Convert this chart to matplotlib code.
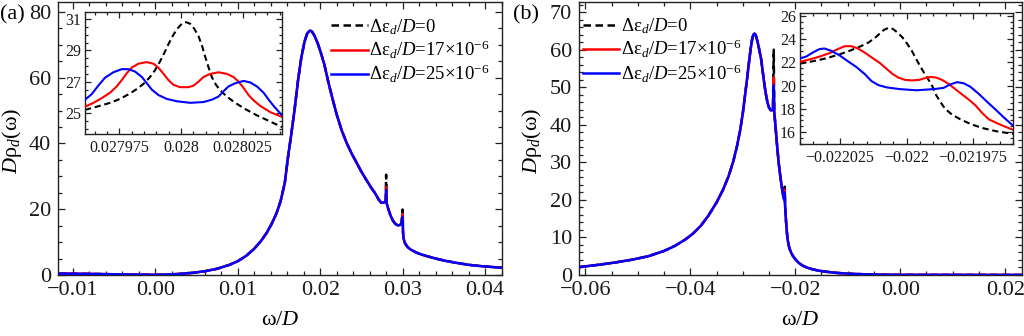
import numpy as np
import matplotlib
matplotlib.use("Agg")
import matplotlib.pyplot as plt
from matplotlib.ticker import MultipleLocator, FixedLocator, FixedFormatter

plt.rcParams["font.family"] = ["Liberation Serif", "DejaVu Serif"]
plt.rcParams["mathtext.fontset"] = "custom"
plt.rcParams["mathtext.rm"] = "Liberation Serif"
plt.rcParams["mathtext.it"] = "Liberation Serif:italic"
plt.rcParams["mathtext.bf"] = "Liberation Serif:bold"
plt.rcParams["axes.unicode_minus"] = True

# ---------------- panel (a): spectral density near the upper resonance ----------------
a_omega = [-0.0118, -0.0100, -0.0075, -0.0050, -0.0025, 0.0000, 0.0015, 0.0030,
           0.0045, 0.0060, 0.0075, 0.0090, 0.0100, 0.0110, 0.0120, 0.0128,
           0.0135, 0.0141, 0.0147, 0.0152, 0.0157, 0.0161, 0.0165, 0.0169,
           0.0173, 0.0177, 0.0181, 0.0184, 0.0186, 0.0188, 0.0190, 0.0193,
           0.0197, 0.0201, 0.0205, 0.0210, 0.0215, 0.0220, 0.0226, 0.0232,
           0.0238, 0.0244, 0.0250, 0.0256, 0.0262, 0.0267, 0.0271, 0.0274,
           0.0277, 0.02795, 0.02805, 0.0282, 0.0285, 0.0288, 0.0291, 0.0294,
           0.0297, 0.02985, 0.03005, 0.0301, 0.0303, 0.0306, 0.0310, 0.0316,
           0.0322, 0.0330, 0.0340, 0.0352, 0.0365, 0.0380, 0.0395, 0.0410,
           0.0421]
a_rho = [0.45, 0.40, 0.32, 0.22, 0.13, 0.08, 0.15, 0.35,
         0.65, 1.15, 1.9, 3.1, 4.2, 5.8, 8.0, 10.3,
         12.8, 15.5, 18.8, 22.5, 28.0, 36.0, 43.0, 50.5,
         59.0, 66.0, 71.0, 73.3, 74.0, 74.3, 74.0, 72.8,
         70.4, 67.4, 64.0, 58.5, 53.5, 48.8, 44.0, 40.2,
         37.0, 34.2, 31.4, 28.9, 26.5, 24.7, 22.9, 22.0,
         22.0, 22.5, 22.0, 20.6, 18.3, 16.6, 15.6, 15.1,
         15.2, 15.7, 13.0, 11.2, 9.6, 8.5, 7.7, 6.9,
         6.3, 5.7, 5.0, 4.3, 3.7, 3.1, 2.7, 2.4,
         2.2]
a_spike_omega = [0.0280, 0.0300]
a_spike_top_0 = [30.5, 19.9]
a_spike_top_17 = [26.7, 18.5]
a_spike_top_25 = [25.9, 17.7]

# inset (a): omega offsets from 0.028, in units of 1e-6
ai_center = 0.028
ai_d_0 = [-39.0, -34.3, -28.8, -24.8, -20.7, -17.3, -14.6, -12.6, -10.5, -8.5,
          -6.9, -5.1, -3.1, -1.4, 0.3, 2.1, 3.7, 5.3, 7.1, 8.5, 9.8, 11.2, 12.5,
          14.2, 15.9, 18.6, 22.0, 26.1, 30.8, 36.3, 41.0]
ai_rho_0 = [25.2, 25.4, 25.65, 25.9, 26.25, 26.6, 26.95, 27.3, 27.75, 28.3,
            28.8, 29.4, 30.0, 30.4, 30.7, 30.8, 30.7, 30.4, 29.9, 29.3, 28.6, 27.9, 27.3,
            26.8, 26.45, 26.05, 25.65, 25.25, 24.85, 24.45, 24.1]
ai_d_17 = [-39.0, -35.6, -32.2, -28.8, -26.1, -24.1, -22.0, -20.0, -17.3, -13.9,
           -11.2, -9.2, -7.1, -5.1, -3.1, -0.4, 3.0, 5.1, 7.1, 9.1, 11.9, 15.2,
           18.6, 21.3, 23.4, 25.4, 27.4, 29.5, 32.2, 36.3, 41.0]
ai_rho_17 = [25.4, 25.65, 25.95, 26.3, 26.7, 27.1, 27.55, 27.9, 28.15, 28.25,
             28.15, 27.9, 27.5, 27.1, 26.8, 26.65, 26.65, 26.75, 27.0, 27.3, 27.5, 27.6,
             27.5, 27.3, 27.0, 26.6, 26.15, 25.8, 25.45, 25.05, 24.75]
ai_d_25 = [-39.0, -36.3, -33.6, -30.9, -27.5, -24.1, -21.4, -18.7, -15.9, -13.9,
           -11.9, -9.2, -5.8, -1.7, 3.7, 9.1, 12.5, 15.2, 17.3, 19.3, 22.0, 25.4,
           28.1, 30.8, 33.5, 35.6, 37.6, 39.6, 41.0]
ai_rho_25 = [25.85, 26.2, 26.75, 27.25, 27.6, 27.8, 27.8, 27.65, 27.3, 26.9,
             26.5, 26.15, 25.9, 25.75, 25.65, 25.7, 25.85, 26.05, 26.4, 26.7, 26.9, 27.05,
             26.95, 26.7, 26.3, 25.85, 25.45, 25.1, 24.85]

# ---------------- panel (b): spectral density near the lower resonance ----------------
b_omega = [-0.0612, -0.0600, -0.0570, -0.0540, -0.0510, -0.0480, -0.0450, -0.0430,
           -0.0410, -0.0395, -0.0380, -0.0365, -0.0350, -0.0338, -0.0327, -0.0318,
           -0.0311, -0.0305, -0.0300, -0.0296, -0.0292, -0.0288, -0.0285, -0.0282,
           -0.0280, -0.0278, -0.0276, -0.0274, -0.0271, -0.0268, -0.0265, -0.0262,
           -0.0259, -0.0256, -0.0253, -0.0250, -0.0247, -0.0244, -0.02425, -0.0240,
           -0.0238, -0.0236, -0.0234, -0.0232, -0.0230, -0.0228, -0.0226, -0.0224,
           -0.0223, -0.02215, -0.02205, -0.02195, -0.0219, -0.0218, -0.0217, -0.0216,
           -0.0215, -0.0213, -0.0211, -0.0208, -0.0205, -0.0202, -0.0198, -0.0193,
           -0.0186, -0.0178, -0.0168, -0.0155, -0.0140, -0.0120, -0.0100, -0.0075,
           -0.0050, -0.0025, 0.0000, 0.0100, 0.0232]
b_rho = [2.1, 2.3, 2.8, 3.4, 4.1, 5.0, 6.4, 7.7,
         9.4, 11.0, 13.1, 15.9, 19.3, 22.6, 26.3, 30.3,
         34.3, 38.5, 43.0, 47.5, 52.0, 56.8, 60.2, 62.9,
         63.9, 64.3, 64.1, 63.3, 61.6, 59.6, 57.5, 54.2,
         51.0, 48.2, 46.0, 44.6, 43.9, 43.9, 44.2, 43.5,
         40.2, 36.8, 33.5, 30.5, 28.0, 25.8, 23.8, 22.0,
         21.0, 20.3, 20.0, 19.0, 17.5, 15.3, 13.2, 11.5,
         10.0, 8.2, 7.1, 6.0, 5.2, 4.6, 3.9, 3.2,
         2.5, 2.0, 1.55, 1.15, 0.85, 0.55, 0.36, 0.22,
         0.13, 0.08, 0.05, 0.03, 0.02]
b_spike_omega = [-0.0241, -0.0220]
b_spike_top_0 = [60.0, 23.5]
b_spike_top_17 = [52.6, 22.7]
b_spike_top_25 = [50.5, 22.0]

# inset (b): omega offsets from -0.022, in units of 1e-6
bi_center = -0.022
bi_d_0 = [-40.0, -35.2, -30.2, -25.1, -21.4, -17.6, -14.4, -11.9, -10.0, -8.5,
          -6.9, -5.2, -3.5, -1.5, 0.3, 2.0, 3.6, 5.1, 6.6, 8.3, 9.8, 11.1, 12.7,
          14.5, 17.1, 20.2, 24.0, 28.4, 34.1, 40.0]
bi_rho_0 = [21.9, 22.1, 22.35, 22.7, 23.0, 23.35, 23.7, 24.1, 24.5, 24.8,
            24.97, 24.9, 24.6, 24.15, 23.6, 23.0, 22.3, 21.7, 21.1, 20.5, 19.9, 19.2, 18.6,
            18.0, 17.5, 17.1, 16.7, 16.35, 16.05, 15.85]
bi_d_17 = [-40.0, -36.5, -32.7, -28.9, -25.8, -23.2, -20.7, -18.2, -15.7, -13.2,
           -10.0, -7.5, -5.2, -3.1, -0.6, 2.0, 4.8, 7.0, 8.9, 11.1, 13.3, 15.8, 18.3,
           20.8, 23.4, 25.9, 28.4, 30.9, 34.1, 37.2, 40.0]
bi_rho_17 = [22.05, 22.25, 22.5, 22.8, 23.15, 23.4, 23.4, 23.2, 22.85, 22.45,
             21.95, 21.45, 21.0, 20.7, 20.5, 20.45, 20.5, 20.65, 20.75, 20.7, 20.5, 20.15,
             19.7, 19.25, 18.8, 18.3, 17.65, 17.1, 16.75, 16.45, 16.2]
bi_d_25 = [-40.0, -37.7, -35.2, -32.7, -30.8, -28.3, -25.1, -22.0, -18.8, -15.7,
           -13.2, -10.6, -7.5, -2.5, 3.8, 10.1, 13.9, 16.4, 19.0, 21.5, 24.0, 27.1,
           30.3, 33.4, 36.6, 40.0]
bi_rho_25 = [22.35, 22.5, 22.85, 23.15, 23.2, 23.0, 22.6, 22.1, 21.6, 21.0,
             20.4, 20.05, 19.85, 19.7, 19.6, 19.7, 19.8, 20.1, 20.3, 20.2, 19.9, 19.3,
             18.6, 17.95, 17.25, 16.55]

labels = [r"Δε$_{d}$/$D$=0",
          r"Δε$_{d}$/$D$=17×10$^{-6}$",
          r"Δε$_{d}$/$D$=25×10$^{-6}$"]
colors = ["black", "#ff0000", "#0000ff"]

a_xticks = [-0.01, 0.00, 0.01, 0.02, 0.03, 0.04]
a_xticklabels = ["−0.01", "0.00", "0.01", "0.02", "0.03", "0.04"]
a_yticks = [0, 20, 40, 60, 80]
b_xticks = [-0.06, -0.04, -0.02, 0.00, 0.02]
b_xticklabels = ["−0.06", "−0.04", "−0.02", "0.00", "0.02"]
b_yticks = [0, 10, 20, 30, 40, 50, 60, 70]
ai_xticks = [0.027975, 0.028, 0.028025]
ai_xticklabels = ["0.027975", "0.028", "0.028025"]
ai_yticks = [25, 27, 29, 31]
bi_xticks = [-0.022025, -0.022, -0.021975]
bi_xticklabels = ["−0.022025", "−0.022", "−0.021975"]
bi_yticks = [16, 18, 20, 22, 24, 26]


def with_spikes(x, y, sx, sy):
    x = np.asarray(x, float)
    y = np.asarray(y, float)
    for px, py in zip(sx, sy):
        i = np.searchsorted(x, px)
        x = np.insert(x, i, px)
        y = np.insert(y, i, py)
    return x, y


def style(ax, size, major_len=5, minor_len=2.8, xpad=5, ypad=4):
    for s in ax.spines.values():
        s.set_linewidth(1.0)
        s.set_color("#222222")
    ax.tick_params(which="both", direction="in", top=True, right=True,
                   colors="#222222", labelcolor="#1a1a1a", labelsize=size, width=0.9)
    ax.tick_params(which="major", length=major_len)
    ax.tick_params(which="minor", length=minor_len)
    ax.tick_params(axis="x", which="major", pad=xpad)
    ax.tick_params(axis="y", which="major", pad=ypad)


fig = plt.figure(figsize=(10.24, 3.36), dpi=100)

main_lw = 1.8
dash = (0, (3.0, 1.8))

# ---------- panel (a) ----------
axa = fig.add_axes([58 / 1024, 1 - 275 / 336, 444 / 1024, 273 / 336])
tops_a = [a_spike_top_0, a_spike_top_17, a_spike_top_25]
for k, (tp, c, lab) in enumerate(zip(tops_a, colors, labels)):
    xs, ys = with_spikes(a_omega, a_rho, a_spike_omega, tp)
    axa.plot(xs, ys, color=c, lw=main_lw, ls=dash if k == 0 else "-",
             label=lab, zorder=2 + k)
axa.set_xlim(-0.01182, 0.04206)
axa.set_ylim(0, 83)
axa.xaxis.set_major_locator(FixedLocator(a_xticks))
axa.xaxis.set_major_formatter(FixedFormatter(a_xticklabels))
axa.xaxis.set_minor_locator(MultipleLocator(0.002))
axa.yaxis.set_major_locator(FixedLocator(a_yticks))
axa.yaxis.set_minor_locator(MultipleLocator(5))
style(axa, 16, xpad=4, ypad=5)
axa.set_xlabel(r"ω/$D$", fontsize=16, va="center")
axa.xaxis.set_label_coords(0.5, -0.165)
axa.set_ylabel(r"$D$ρ$_{d}$(ω)", fontsize=16, va="center")
axa.yaxis.set_label_coords(-0.104, 0.49)
axa.legend(loc="upper left", bbox_to_anchor=(0.615, 0.945), frameon=False,
           fontsize=13.5, handlelength=1.95, handletextpad=0.1, labelspacing=0.12,
           borderpad=0, borderaxespad=0)
fig.text(0.0, 1 - 15 / 336, "(a)", fontsize=16, va="center", ha="left")

# inset (a)
axai = fig.add_axes([85 / 1024, 1 - 134 / 336, 197 / 1024, 122 / 336])
inset_a = [(ai_d_0, ai_rho_0), (ai_d_17, ai_rho_17), (ai_d_25, ai_rho_25)]
for k, ((dd, yy), c) in enumerate(zip(inset_a, colors)):
    xx = ai_center + np.asarray(dd) * 1e-6
    axai.plot(xx, yy, color=c, lw=1.5, ls=dash if k == 0 else "-", zorder=2 + k)
axai.set_xlim(0.027961, 0.028041)
axai.set_ylim(23.66, 31.45)
axai.xaxis.set_major_locator(FixedLocator(ai_xticks))
axai.xaxis.set_major_formatter(FixedFormatter(ai_xticklabels))
axai.xaxis.set_minor_locator(MultipleLocator(0.000005))
axai.yaxis.set_major_locator(FixedLocator(ai_yticks))
axai.yaxis.set_minor_locator(MultipleLocator(0.5))
style(axai, 11.5, major_len=4, minor_len=2, xpad=4, ypad=3)

# ---------- panel (b) ----------
axb = fig.add_axes([579 / 1024, 1 - 275 / 336, 443 / 1024, 273 / 336])
tops_b = [b_spike_top_0, b_spike_top_17, b_spike_top_25]
for k, (tp, c, lab) in enumerate(zip(tops_b, colors, labels)):
    xs, ys = with_spikes(b_omega, b_rho, b_spike_omega, tp)
    axb.plot(xs, ys, color=c, lw=main_lw, ls=dash if k == 0 else "-",
             label=lab, zorder=2 + k)
axb.set_xlim(-0.0612, 0.0232)
axb.set_ylim(0, 72.7)
axb.xaxis.set_major_locator(FixedLocator(b_xticks))
axb.xaxis.set_major_formatter(FixedFormatter(b_xticklabels))
axb.xaxis.set_minor_locator(MultipleLocator(0.005))
axb.yaxis.set_major_locator(FixedLocator(b_yticks))
axb.yaxis.set_minor_locator(MultipleLocator(2))
style(axb, 16, xpad=4, ypad=5)
axb.set_xlabel(r"ω/$D$", fontsize=16, va="center")
axb.xaxis.set_label_coords(0.5, -0.165)
axb.set_ylabel(r"$D$ρ$_{d}$(ω)", fontsize=16, va="center")
axb.yaxis.set_label_coords(-0.106, 0.49)
axb.legend(loc="upper left", bbox_to_anchor=(0.008, 0.948), frameon=False,
           fontsize=13.5, handlelength=1.95, handletextpad=0.1, labelspacing=0.12,
           borderpad=0, borderaxespad=0)
fig.text(513 / 1024, 1 - 15 / 336, "(b)", fontsize=16, va="center", ha="left")

# inset (b)
axbi = fig.add_axes([800 / 1024, 1 - 144 / 336, 213 / 1024, 131 / 336])
inset_b = [(bi_d_0, bi_rho_0), (bi_d_17, bi_rho_17), (bi_d_25, bi_rho_25)]
for k, ((dd, yy), c) in enumerate(zip(inset_b, colors)):
    xx = bi_center + np.asarray(dd) * 1e-6
    axbi.plot(xx, yy, color=c, lw=1.5, ls=dash if k == 0 else "-", zorder=2 + k)
axbi.set_xlim(-0.022040, -0.021960)
axbi.set_ylim(14.97, 26.26)
axbi.xaxis.set_major_locator(FixedLocator(bi_xticks))
axbi.xaxis.set_major_formatter(FixedFormatter(bi_xticklabels))
axbi.xaxis.set_minor_locator(MultipleLocator(0.000005))
axbi.yaxis.set_major_locator(FixedLocator(bi_yticks))
axbi.yaxis.set_minor_locator(MultipleLocator(0.5))
style(axbi, 11.5, major_len=4, minor_len=2, xpad=4, ypad=3)

fig.savefig("out.png", dpi=100)
